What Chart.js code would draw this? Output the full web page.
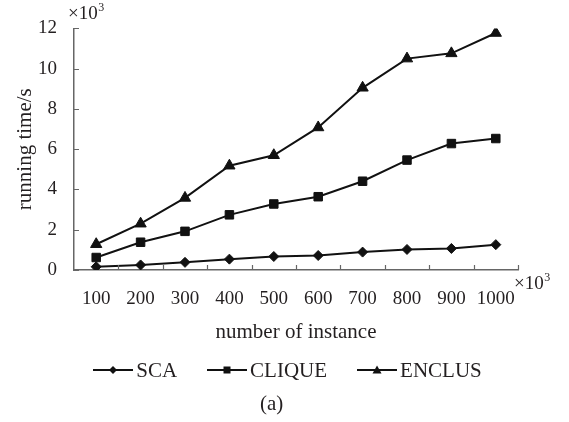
<!DOCTYPE html>
<html>
<head>
<meta charset="utf-8">
<script src="https://cdn.jsdelivr.net/npm/chart.js@4"></script>
<style>
  html,body{margin:0;padding:0;background:#fff;}
  #wrap{position:relative;width:569px;height:422px;font-family:"Liberation Serif","Times New Roman",serif;color:#231f20;}
  #legend{position:absolute;left:3px;top:358px;width:569px;height:24px;display:flex;justify-content:center;align-items:center;font-size:21px;}
  #legend .item{display:flex;align-items:center;margin:0 15px;}
  #legend canvas{margin-right:3px;}
  #caption{position:absolute;left:260px;top:390px;font-size:21px;line-height:26px;}
</style>
</head>
<body>
<div id="wrap">
  <canvas id="chart" width="569" height="422"></canvas>
  <div id="legend"></div>
  <div id="caption">(a)</div>
</div>
<script>
const instances = ['100','200','300','400','500','600','700','800','900','1000'];
const sca = [0.16, 0.25, 0.38, 0.54, 0.67, 0.72, 0.89, 1.02, 1.07, 1.26];
const clique = [0.62, 1.38, 1.92, 2.74, 3.28, 3.64, 4.41, 5.46, 6.28, 6.53];
const enclus = [1.28, 2.30, 3.58, 5.18, 5.70, 7.08, 9.05, 10.50, 10.76, 11.77];
const seriesNames = ['SCA','CLIQUE','ENCLUS'];
const markers = ['rectRot','rect','triangle'];

const serif = '"Liberation Serif","Times New Roman",serif';
const ink = '#231f20';

// short inward ticks + the x10^3 notes
const axisDecor = {
  id:'axisDecor',
  afterDraw(chart){
    const {ctx, chartArea:a, scales:{x, y}} = chart;
    ctx.save();
    ctx.strokeStyle = '#666'; ctx.lineWidth = 1.2;
    ctx.beginPath();
    y.ticks.forEach(t=>{ const py = Math.round(y.getPixelForValue(t.value))+0.5; ctx.moveTo(a.left, py); ctx.lineTo(a.left+5, py); });
    for(let i=1;i<=instances.length;i++){ const px = Math.round(x.getPixelForValue(i-0.5))+0.5; ctx.moveTo(px, a.bottom); ctx.lineTo(px, a.bottom-5); }
    ctx.stroke();
    ctx.fillStyle = ink; ctx.textBaseline = 'alphabetic'; ctx.textAlign = 'left';
    const note = (px, py)=>{
      ctx.font = '19px '+serif; ctx.fillText('×10', px, py);
      const w = ctx.measureText('×10').width;
      ctx.font = '12px '+serif; ctx.fillText('3', px+w+0.5, py-8);
    };
    note(a.left-6, 19);
    note(a.right-4, 289);
    ctx.restore();
  }
};

new Chart(document.getElementById('chart'), {
  type:'line',
  data:{
    labels: instances,
    datasets:[sca, clique, enclus].map((d,i)=>({
      label: seriesNames[i], data: d,
      borderColor:'#111', backgroundColor:'#111', borderWidth:2,
      pointStyle: markers[i], pointRadius: [5,6,6.5][i], pointHoverRadius: [5,6,6.5][i],
      pointBorderWidth:1, tension:0
    }))
  },
  options:{
    responsive:false, animation:false,
    layout:{ padding:{ left:12.4, right:51, top:26, bottom:72 } },
    plugins:{ legend:{display:false}, tooltip:{enabled:false} },
    scales:{
      x:{
        offset:true,
        grid:{ display:true, drawOnChartArea:false, drawTicks:false },
        border:{ display:true, color:'#666', width:1.5 },
        ticks:{ color:ink, font:{family:serif, size:19}, padding:18, maxRotation:0, autoSkip:false },
        title:{ display:true, text:'number of instance', color:ink, font:{family:serif, size:21}, padding:{top:0, bottom:5} },
        afterFit(s){ s.height = 80; }
      },
      y:{
        min:0, max:12,
        grid:{ display:true, drawOnChartArea:false, drawTicks:false },
        border:{ display:true, color:'#666', width:1.5 },
        ticks:{ stepSize:2, color:ink, font:{family:serif, size:19}, padding:17 },
        title:{ display:true, text:'running time/s', color:ink, font:{family:serif, size:21}, padding:0 },
        afterFit(s){ s.width = 61.6; }
      }
    }
  },
  plugins:[axisDecor]
});

// legend: line with marker, then name
const legend = document.getElementById('legend');
seriesNames.forEach((name,i)=>{
  const item = document.createElement('div'); item.className = 'item';
  const c = document.createElement('canvas'); c.width = 40; c.height = 14;
  const g = c.getContext('2d');
  g.strokeStyle = '#111'; g.fillStyle = '#111'; g.lineWidth = 2;
  g.beginPath(); g.moveTo(0,7); g.lineTo(40,7); g.stroke();
  g.beginPath();
  if(markers[i]==='rectRot'){ g.moveTo(20,3); g.lineTo(24,7); g.lineTo(20,11); g.lineTo(16,7); }
  else if(markers[i]==='rect'){ g.rect(16.5,3.5,7,7); }
  else { g.moveTo(20,2.5); g.lineTo(24.5,10.5); g.lineTo(15.5,10.5); }
  g.closePath(); g.fill();
  const t = document.createElement('span'); t.textContent = name;
  item.appendChild(c); item.appendChild(t); legend.appendChild(item);
});
</script>
</body>
</html>
